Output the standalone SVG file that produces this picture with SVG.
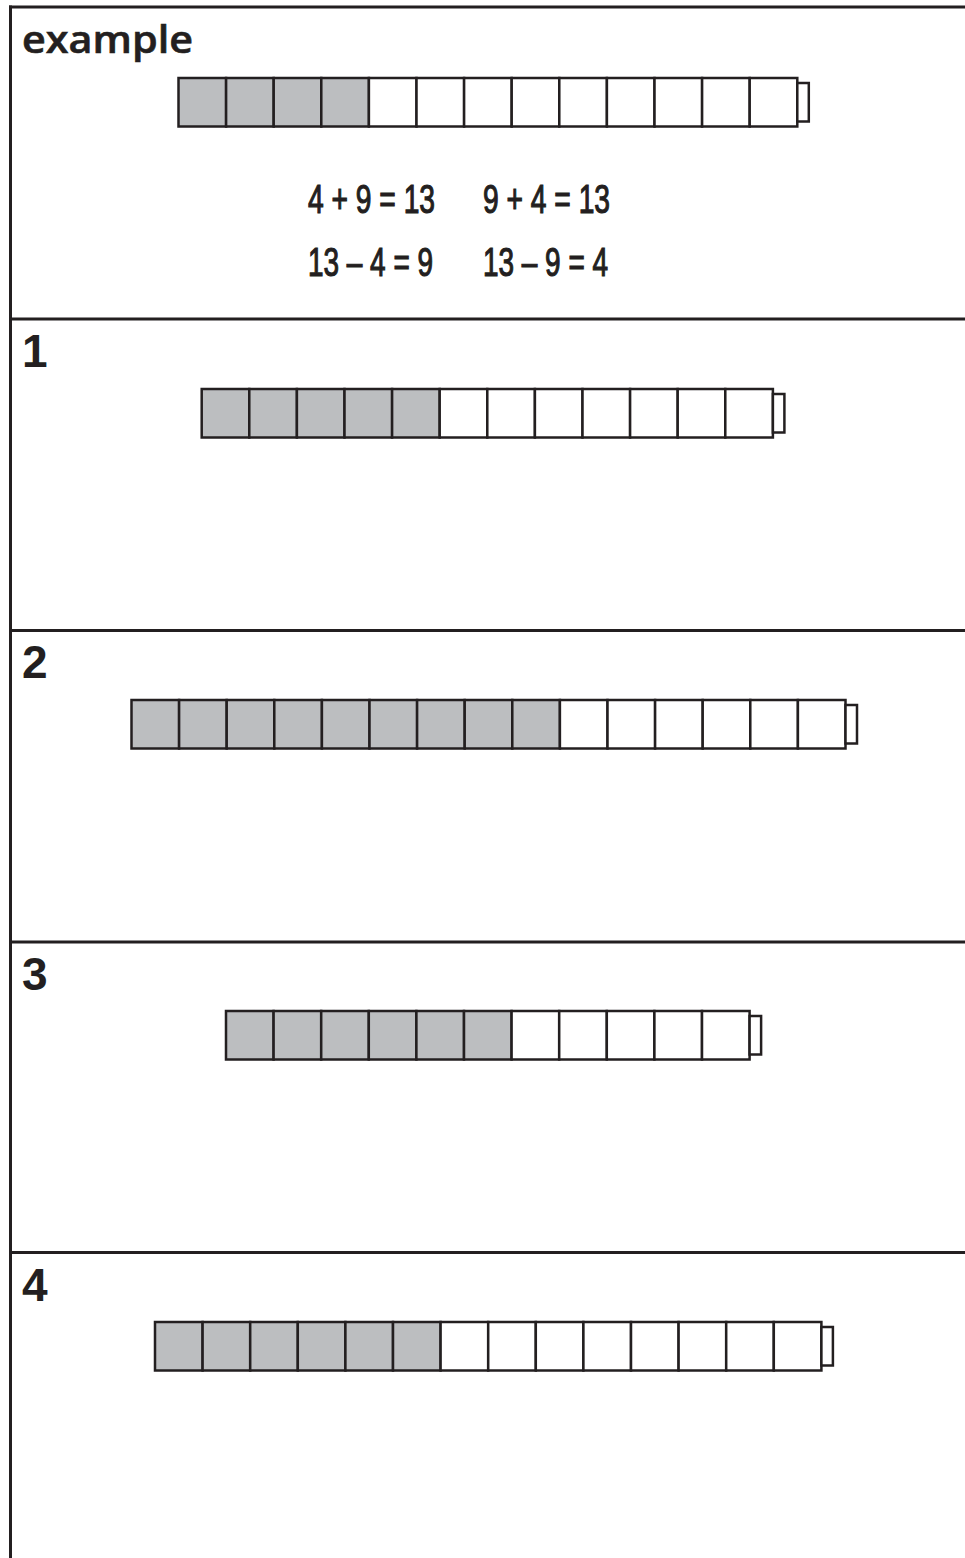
<svg xmlns="http://www.w3.org/2000/svg" width="965" height="1558" viewBox="0 0 965 1558">
<style>
.frame{stroke:#231f20;stroke-width:3;fill:none}
.g{fill:#bcbec0;stroke:#231f20;stroke-width:2.5}
.w{fill:#ffffff;stroke:#231f20;stroke-width:2.5}
.num{font-family:"Liberation Sans",Arial,sans-serif;font-weight:bold;font-size:46px;fill:#231f20}
.title{font-family:"Open Sans","Liberation Sans",sans-serif;font-weight:600;font-size:38px;fill:#231f20;stroke:#231f20;stroke-width:0.6}
.eq{font-family:"Liberation Sans",Arial,sans-serif;font-size:40px;fill:#231f20;stroke:#231f20;stroke-width:1.2}
</style>
<rect width="965" height="1558" fill="#ffffff"/>
<g id="frame" class="frame">
<line x1="9" y1="7" x2="965" y2="7"/>
<line x1="10.5" y1="5.5" x2="10.5" y2="1558"/>
<line x1="10" y1="319" x2="965" y2="319"/>
<line x1="10" y1="630.5" x2="965" y2="630.5"/>
<line x1="10" y1="942" x2="965" y2="942"/>
<line x1="10" y1="1252.5" x2="965" y2="1252.5"/>
</g>
<g id="example">
<text class="title" x="22" y="53" textLength="171" lengthAdjust="spacingAndGlyphs">example</text>
<g id="train-example" transform="translate(178.5,78)">
<rect class="g" x="0" y="0" width="47.6" height="48.5"/>
<rect class="g" x="47.6" y="0" width="47.6" height="48.5"/>
<rect class="g" x="95.2" y="0" width="47.6" height="48.5"/>
<rect class="g" x="142.8" y="0" width="47.6" height="48.5"/>
<rect class="w" x="190.4" y="0" width="47.6" height="48.5"/>
<rect class="w" x="238" y="0" width="47.6" height="48.5"/>
<rect class="w" x="285.6" y="0" width="47.6" height="48.5"/>
<rect class="w" x="333.2" y="0" width="47.6" height="48.5"/>
<rect class="w" x="380.8" y="0" width="47.6" height="48.5"/>
<rect class="w" x="428.4" y="0" width="47.6" height="48.5"/>
<rect class="w" x="476" y="0" width="47.6" height="48.5"/>
<rect class="w" x="523.6" y="0" width="47.6" height="48.5"/>
<rect class="w" x="571.2" y="0" width="47.6" height="48.5"/>
<rect class="w" x="618.8" y="5" width="11.5" height="38.5"/>
</g>
<text class="eq" x="308" y="213" textLength="127" lengthAdjust="spacingAndGlyphs">4 + 9 = 13</text>
<text class="eq" x="483" y="213" textLength="127" lengthAdjust="spacingAndGlyphs">9 + 4 = 13</text>
<text class="eq" x="308" y="276" textLength="125" lengthAdjust="spacingAndGlyphs">13 – 4 = 9</text>
<text class="eq" x="483" y="276" textLength="125" lengthAdjust="spacingAndGlyphs">13 – 9 = 4</text>
</g>
<g id="q1">
<text class="num" x="22" y="367">1</text>
<g transform="translate(201.7,389)">
<rect class="g" x="0" y="0" width="47.6" height="48.5"/>
<rect class="g" x="47.6" y="0" width="47.6" height="48.5"/>
<rect class="g" x="95.2" y="0" width="47.6" height="48.5"/>
<rect class="g" x="142.8" y="0" width="47.6" height="48.5"/>
<rect class="g" x="190.4" y="0" width="47.6" height="48.5"/>
<rect class="w" x="238" y="0" width="47.6" height="48.5"/>
<rect class="w" x="285.6" y="0" width="47.6" height="48.5"/>
<rect class="w" x="333.2" y="0" width="47.6" height="48.5"/>
<rect class="w" x="380.8" y="0" width="47.6" height="48.5"/>
<rect class="w" x="428.4" y="0" width="47.6" height="48.5"/>
<rect class="w" x="476" y="0" width="47.6" height="48.5"/>
<rect class="w" x="523.6" y="0" width="47.6" height="48.5"/>
<rect class="w" x="571.2" y="5" width="11.5" height="38.5"/>
</g>
</g>
<g id="q2">
<text class="num" x="22" y="678">2</text>
<g transform="translate(131.5,700)">
<rect class="g" x="0" y="0" width="47.6" height="48.5"/>
<rect class="g" x="47.6" y="0" width="47.6" height="48.5"/>
<rect class="g" x="95.2" y="0" width="47.6" height="48.5"/>
<rect class="g" x="142.8" y="0" width="47.6" height="48.5"/>
<rect class="g" x="190.4" y="0" width="47.6" height="48.5"/>
<rect class="g" x="238" y="0" width="47.6" height="48.5"/>
<rect class="g" x="285.6" y="0" width="47.6" height="48.5"/>
<rect class="g" x="333.2" y="0" width="47.6" height="48.5"/>
<rect class="g" x="380.8" y="0" width="47.6" height="48.5"/>
<rect class="w" x="428.4" y="0" width="47.6" height="48.5"/>
<rect class="w" x="476" y="0" width="47.6" height="48.5"/>
<rect class="w" x="523.6" y="0" width="47.6" height="48.5"/>
<rect class="w" x="571.2" y="0" width="47.6" height="48.5"/>
<rect class="w" x="618.8" y="0" width="47.6" height="48.5"/>
<rect class="w" x="666.4" y="0" width="47.6" height="48.5"/>
<rect class="w" x="714" y="5" width="11.5" height="38.5"/>
</g>
</g>
<g id="q3">
<text class="num" x="22" y="990">3</text>
<g transform="translate(226,1011)">
<rect class="g" x="0" y="0" width="47.6" height="48.5"/>
<rect class="g" x="47.6" y="0" width="47.6" height="48.5"/>
<rect class="g" x="95.2" y="0" width="47.6" height="48.5"/>
<rect class="g" x="142.8" y="0" width="47.6" height="48.5"/>
<rect class="g" x="190.4" y="0" width="47.6" height="48.5"/>
<rect class="g" x="238" y="0" width="47.6" height="48.5"/>
<rect class="w" x="285.6" y="0" width="47.6" height="48.5"/>
<rect class="w" x="333.2" y="0" width="47.6" height="48.5"/>
<rect class="w" x="380.8" y="0" width="47.6" height="48.5"/>
<rect class="w" x="428.4" y="0" width="47.6" height="48.5"/>
<rect class="w" x="476" y="0" width="47.6" height="48.5"/>
<rect class="w" x="523.6" y="5" width="11.5" height="38.5"/>
</g>
</g>
<g id="q4">
<text class="num" x="22" y="1301">4</text>
<g transform="translate(155,1322)">
<rect class="g" x="0" y="0" width="47.6" height="48.5"/>
<rect class="g" x="47.6" y="0" width="47.6" height="48.5"/>
<rect class="g" x="95.2" y="0" width="47.6" height="48.5"/>
<rect class="g" x="142.8" y="0" width="47.6" height="48.5"/>
<rect class="g" x="190.4" y="0" width="47.6" height="48.5"/>
<rect class="g" x="238" y="0" width="47.6" height="48.5"/>
<rect class="w" x="285.6" y="0" width="47.6" height="48.5"/>
<rect class="w" x="333.2" y="0" width="47.6" height="48.5"/>
<rect class="w" x="380.8" y="0" width="47.6" height="48.5"/>
<rect class="w" x="428.4" y="0" width="47.6" height="48.5"/>
<rect class="w" x="476" y="0" width="47.6" height="48.5"/>
<rect class="w" x="523.6" y="0" width="47.6" height="48.5"/>
<rect class="w" x="571.2" y="0" width="47.6" height="48.5"/>
<rect class="w" x="618.8" y="0" width="47.6" height="48.5"/>
<rect class="w" x="666.4" y="5" width="11.5" height="38.5"/>
</g>
</g>
</svg>
